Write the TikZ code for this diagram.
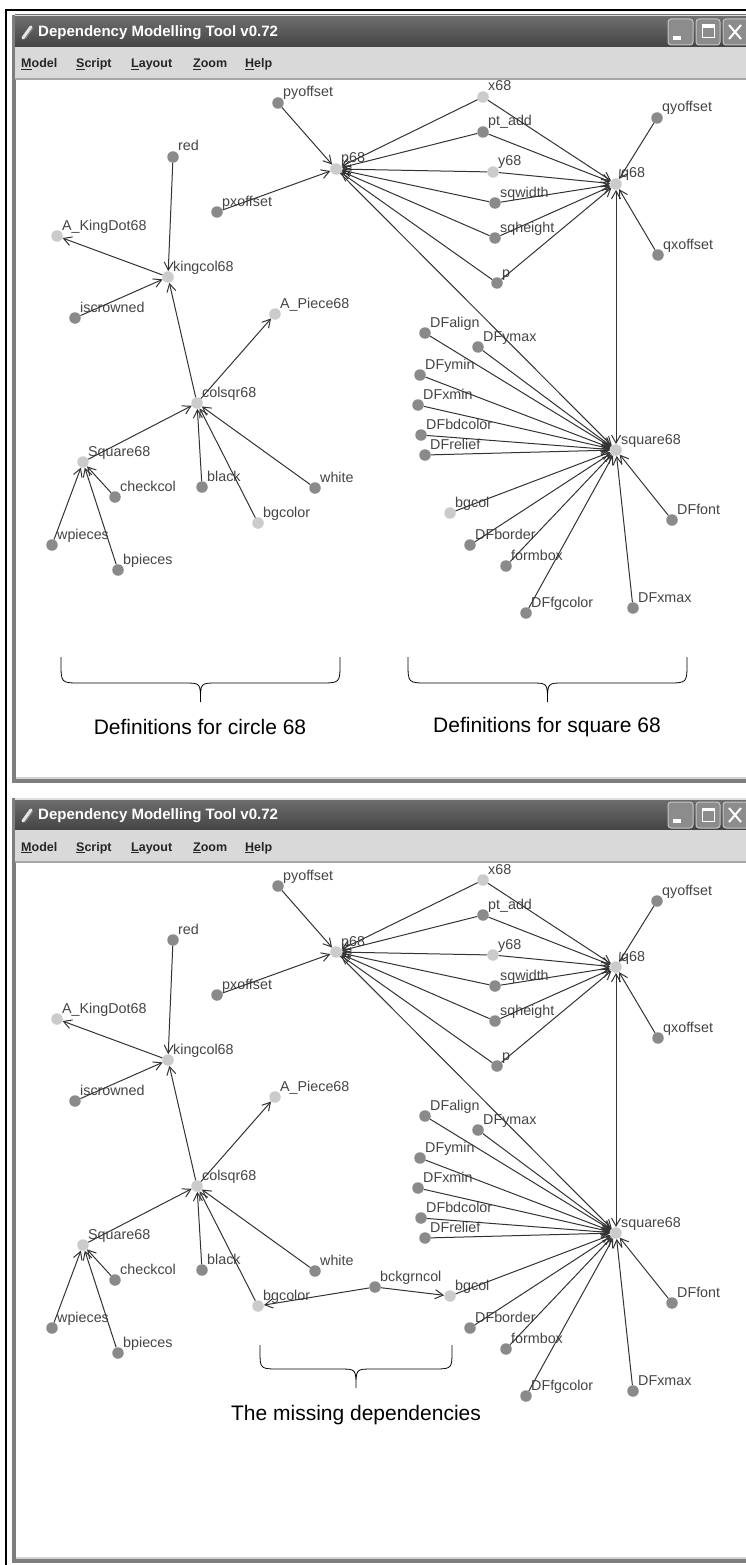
\documentclass[tikz,border=0pt]{standalone}
\usepackage{fontspec}
\setmainfont{Liberation Sans}
\usetikzlibrary{arrows.meta}

\definecolor{dotdark}{HTML}{8A8A8A}
\definecolor{dotlight}{HTML}{CBCBCB}
\definecolor{edgecol}{HTML}{333333}
\definecolor{lblcol}{HTML}{454545}
\definecolor{winframe}{HTML}{7E7E7E}
\definecolor{titletop}{HTML}{707070}
\definecolor{titlebot}{HTML}{444444}
\definecolor{menubg}{HTML}{D9D9D9}
\definecolor{btnfill}{HTML}{8C8C8C}
\definecolor{btnedge}{HTML}{C6C6C6}

\tikzset{
  dk/.style={circle, fill=dotdark, inner sep=0pt, minimum size=11.5pt},
  lt/.style={circle, fill=dotlight, inner sep=0pt, minimum size=11.5pt},
  lbl/.style={anchor=base west, inner sep=0pt, text=lblcol,
              font=\fontsize{14.3}{14.3}\selectfont},
  dep/.style={draw=edgecol, line width=1pt,
              -{Straight Barb[length=8pt,width=9pt]}},
  both/.style={draw=edgecol, line width=1pt,
              {Straight Barb[length=8pt,width=9pt]}-{Straight Barb[length=8pt,width=9pt]}},
  titletext/.style={anchor=west, inner sep=0pt, text=white,
              font=\bfseries\fontsize{15}{15}\selectfont},
  menutext/.style={anchor=base west, inner sep=0pt, text=black!85,
              font=\bfseries\fontsize{12.5}{12.5}\selectfont},
  captext/.style={inner sep=0pt, text=black, font=\fontsize{21}{21}\selectfont},
  bracepen/.style={draw=black, line width=0.8pt},
}

% one variable of the model: a dot and its name above right
\newcommand\depvar[5]{%
  \node[#4] (#1) at (#2,#3) {};
  \node[lbl] (#1-t) at ({#2+5},{#3-6}) {#5};
}

% application window: title bar, buttons, menu bar and canvas (#1 top, #2 bottom)
\newcommand\appwindow[2]{%
  \fill[winframe] (12,#1) rectangle (750,#2);
  \shade[top color=titletop, bottom color=titlebot] (15,#1) rectangle (750,{#1+32});
  \fill[white!75!gray] (15,#1) rectangle (750,{#1+1.5});
  % window icon
  \draw[line width=3.2pt, line cap=round, white!80!gray] (23,{#1+23}) -- (31,{#1+12});
  \draw[line width=1.2pt, line cap=round, gray] (25,{#1+24}) -- (33,{#1+13});
  \node[titletext] (title) at (38,{#1+18}) {Dependency Modelling Tool v0.72};
  % minimise, maximise, close
  \draw[btnedge, fill=btnfill, line width=1pt, rounded corners=3pt] (668,{#1+4}) rectangle (693,{#1+30});
  \fill[white] (673,{#1+21}) rectangle (681,{#1+25});
  \draw[btnedge, fill=btnfill, line width=1pt, rounded corners=3pt] (696,{#1+4}) rectangle (720,{#1+30});
  \draw[white, line width=1pt] (702,{#1+10}) rectangle (714,{#1+23});
  \fill[white] (702,{#1+10}) rectangle (714,{#1+13});
  \draw[btnedge, fill=btnfill, line width=1pt, rounded corners=3pt] (723,{#1+4}) rectangle (750,{#1+30});
  \draw[white, line width=2pt] (729,{#1+10}) -- (741,{#1+24}) (741,{#1+10}) -- (729,{#1+24});
  % menu bar
  \fill[menubg] (15,{#1+32}) rectangle (750,{#1+63});
  \fill[gray!70] (15,{#1+63}) rectangle (750,{#1+65});
  \node[menutext] (m-model)  at (21,{#1+53}) {\underline{M}odel};
  \node[menutext] (m-script) at (76,{#1+53}) {\underline{S}cript};
  \node[menutext] (m-layout) at (131,{#1+53}) {\underline{L}ayout};
  \node[menutext] (m-zoom)   at (193,{#1+53}) {\underline{Z}oom};
  \node[menutext] (m-help)   at (245,{#1+53}) {\underline{H}elp};
  % drawing canvas
  \fill[white] (16,{#1+65}) rectangle (750,{#2-5});
  \fill[gray!35] (16,{#2-6}) rectangle (750,{#2-4});
}

% the dependency graph of circle 68 and square 68
\newcommand\depgraph{%
  \depvar{pyoffset}{278}{103}{dk}{pyoffset}
  \depvar{red}{173}{157}{dk}{red}
  \depvar{p68}{336}{169}{lt}{p68}
  \depvar{pxoffset}{217}{212}{dk}{pxoffset}
  \depvar{akd}{57}{236}{lt}{A\_KingDot68}
  \depvar{kingcol}{168}{277}{lt}{kingcol68}
  \depvar{iscrowned}{75}{318}{dk}{iscrowned}
  \depvar{apiece}{275}{314}{lt}{A\_Piece68}
  \depvar{colsqr}{197}{403}{lt}{colsqr68}
  \depvar{square}{83}{462}{lt}{Square68}
  \depvar{checkcol}{115}{497}{dk}{checkcol}
  \depvar{black}{202}{487}{dk}{black}
  \depvar{bgcolor}{258}{523}{lt}{bgcolor}
  \depvar{white}{315}{488}{dk}{white}
  \depvar{wpieces}{52}{545}{dk}{wpieces}
  \depvar{bpieces}{118}{570}{dk}{bpieces}
  \depvar{x68}{483}{97}{lt}{x68}
  \depvar{ptadd}{483}{132}{dk}{pt\_add}
  \depvar{y68}{493}{172}{lt}{y68}
  \depvar{sqwidth}{495}{203}{dk}{sqwidth}
  \depvar{sqheight}{495}{238}{dk}{sqheight}
  \depvar{p}{497}{283}{dk}{p}
  \depvar{q68}{616}{184}{lt}{q68}
  \depvar{qyoffset}{657}{118}{dk}{qyoffset}
  \depvar{qxoffset}{658}{255}{dk}{qxoffset}
  \depvar{dfalign}{425}{333}{dk}{DFalign}
  \depvar{dfymax}{478}{347}{dk}{DFymax}
  \depvar{dfymin}{420}{375}{dk}{DFymin}
  \depvar{dfxmin}{418}{405}{dk}{DFxmin}
  \depvar{dfbdcolor}{421}{435}{dk}{DFbdcolor}
  \depvar{dfrelief}{425}{455}{dk}{DFrelief}
  \depvar{sq68}{616}{450}{lt}{square68}
  \depvar{bgcol}{450}{513}{lt}{bgcol}
  \depvar{dfborder}{470}{545}{dk}{DFborder}
  \depvar{formbox}{506}{566}{dk}{formbox}
  \depvar{dffgcolor}{526}{613}{dk}{DFfgcolor}
  \depvar{dfxmax}{633}{608}{dk}{DFxmax}
  \depvar{dffont}{672}{520}{dk}{DFfont}
  % dependencies
  \draw[dep] (pyoffset) -- (p68);
  \draw[dep] (pxoffset) -- (p68);
  \foreach \v in {x68,ptadd,y68,sqwidth,sqheight,p} {
    \draw[dep] (\v) -- (p68);
    \draw[dep] (\v) -- (q68);
  }
  \draw[dep] (qyoffset) -- (q68);
  \draw[dep] (qxoffset) -- (q68);
  \draw[both] (sq68) -- (q68);
  \draw[dep] (p68) -- (sq68);
  \foreach \v in {dfalign,dfymax,dfymin,dfxmin,dfbdcolor,dfrelief,bgcol,dfborder,formbox,dffgcolor,dfxmax,dffont}
    \draw[dep] (\v) -- (sq68);
  \draw[dep] (red) -- (kingcol);
  \draw[dep] (kingcol) -- (akd);
  \draw[dep] (iscrowned) -- (kingcol);
  \draw[dep] (colsqr) -- (kingcol);
  \draw[dep] (colsqr) -- (apiece);
  \draw[dep] (square) -- (colsqr);
  \foreach \v in {black,bgcolor,white}
    \draw[dep] (\v) -- (colsqr);
  \foreach \v in {checkcol,wpieces,bpieces}
    \draw[dep] (\v) -- (square);
}

% curly brace opening downwards: x1, x2, top, middle, tip
\newcommand\downbrace[5]{%
  \pgfmathsetmacro\bm{(#1+#2)/2}
  \draw[bracepen] (#1,#3) -- (#1,{#3+6}) .. controls (#1,#4) .. ({#1+20},#4)
    -- ({\bm-16},#4) .. controls (\bm,#4) .. (\bm,#5)
    .. controls (\bm,#4) .. ({\bm+16},#4) -- ({#2-20},#4)
    .. controls (#2,#4) .. (#2,{#3+6}) -- (#2,#3);
}

\begin{document}
\begin{tikzpicture}[x=1pt, y=-1pt]
  \useasboundingbox (0,0) rectangle (745,1565);
  \fill[white] (0,0) rectangle (745,1565);

  % first window: the two definitions
  \begin{scope}[name prefix=w1-]
    \appwindow{15}{783}
    \depgraph
  \end{scope}

  % second window: the same model with the added variable
  \begin{scope}[yshift=-783pt, name prefix=w2-]
    \appwindow{15}{780}
    \depgraph
    \depvar{bckgrncol}{375}{504}{dk}{bckgrncol}
    \draw[dep] (bckgrncol) -- (bgcolor);
    \draw[dep] (bckgrncol) -- (bgcol);
  \end{scope}

  % outer frame
  \draw[line width=2pt] (6,1570) -- (6,10) -- (750,10);

  % annotations
  \downbrace{61}{340}{657}{683}{702}
  \node[captext] (cap-circle) at (200,727) {Definitions for circle 68};
  \downbrace{408}{687}{657}{683}{702}
  \node[captext] (cap-square) at (547,727) {Definitions for square 68};
  \downbrace{260}{452}{1345}{1369}{1388}
  \node[captext] (cap-missing) at (356,1415) {The missing dependencies};
\end{tikzpicture}
\end{document}
